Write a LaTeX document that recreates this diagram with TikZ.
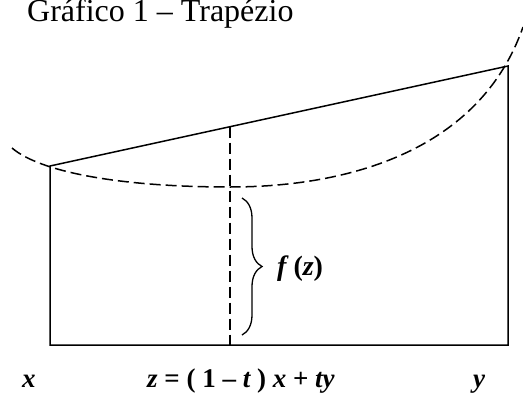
\documentclass[tikz,border=0pt]{standalone}
\usepackage{fontspec}
\setmainfont{Liberation Serif}
\usetikzlibrary{decorations.pathreplacing}
\begin{document}
\begin{tikzpicture}[x=1pt,y=-1pt,
  edge/.style={line width=1.5pt, line join=miter},
  dashline/.style={line width=1.5pt, dash pattern=on 11pt off 5pt},
  bracestyle/.style={line width=1.3pt, decorate, decoration={brace, amplitude=20pt}},
  lab/.style={inner sep=0pt, anchor=base west, font=\fontsize{27}{30}\selectfont\bfseries\itshape}]
\useasboundingbox (0,0) rectangle (523,397);
\coordinate (A) at (50,345);
\coordinate (B) at (508,345);
\coordinate (C) at (508,66);
\coordinate (D) at (50,166);
\coordinate (M) at (230,126.7);
\coordinate (N) at (230,345);
\coordinate (P0) at (12,148);
\coordinate (P1) at (230,187);
\coordinate (P2) at (523,27);
\coordinate (BT) at (242,198);
\coordinate (BB) at (242,335);
\draw[edge] (A) -- (B) -- (C) -- (D) -- cycle;
\draw[dashline] (M) -- (N);
\draw[dashline] (P0) .. controls (40,172) and (120,187) .. (P1)
  .. controls (350,187) and (480,150) .. (P2);
\draw[bracestyle] (BT) -- (BB);
\node[inner sep=0pt, anchor=base west, font=\fontsize{32}{34}\selectfont] (title) at (27,21) {Gráfico 1 – Trapézio};
\node[lab] (xl) at (22,387) {x};
\node[lab] (zl) at (147,387) {z {\upshape = ( 1 – }t{\upshape\ )} x {\upshape +} ty};
\node[lab] (yl) at (473,387) {y};
\node[lab, font=\fontsize{28}{30}\selectfont\bfseries\itshape] (fz) at (277,275) {f {\upshape(}z{\upshape)}};
\end{tikzpicture}
\end{document}
